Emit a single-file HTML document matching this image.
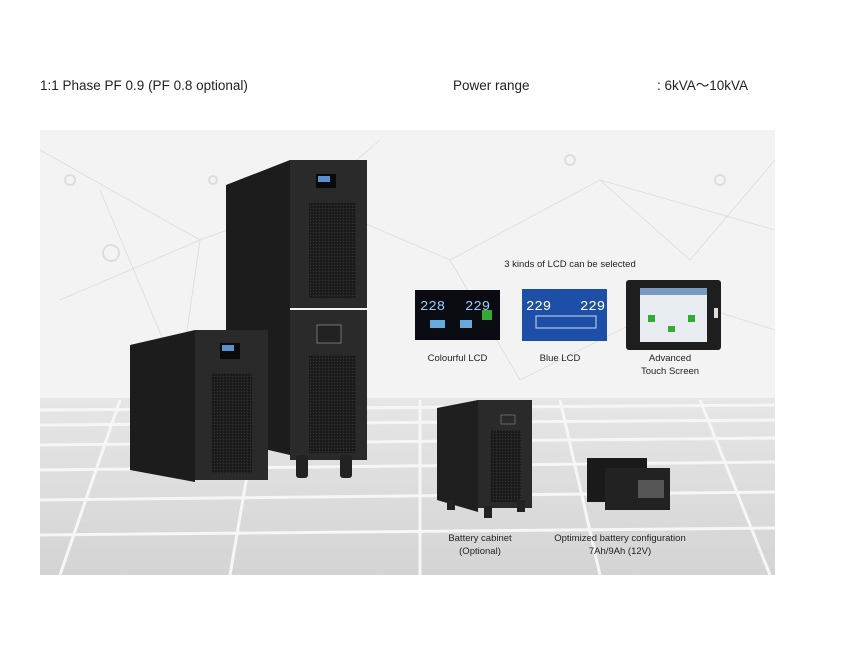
<!DOCTYPE html>
<html><head><meta charset="utf-8"><style>
body{margin:0;width:850px;height:655px;background:#fff;font-family:"Liberation Sans","Noto Sans CJK SC",sans-serif;position:relative;overflow:hidden}
.t{position:absolute;font-size:13.5px;color:#222;top:78px;line-height:16px;white-space:nowrap}
.c{position:absolute;font-size:9.5px;color:#222;text-align:center;line-height:13px}
</style></head><body>
<div class="t" style="left:40px">1:1 Phase PF 0.9 (PF 0.8 optional)</div>
<div class="t" style="left:453px">Power range</div>
<div class="t" style="left:657px">: 6kVA～10kVA</div>
<svg style="position:absolute;left:0;top:0" width="850" height="655">
<defs>
<linearGradient id="fl" x1="0" y1="0" x2="0" y2="1"><stop offset="0" stop-color="#e6e6e6"/><stop offset="1" stop-color="#d4d4d4"/></linearGradient>
<pattern id="mesh" width="3" height="3" patternUnits="userSpaceOnUse"><rect width="3" height="3" fill="#1a1a1a"/><circle cx="1.5" cy="1.5" r="0.8" fill="#333"/></pattern>
</defs>
<rect x="40" y="130" width="735" height="445" fill="#f3f3f3"/>
<rect x="40" y="398" width="735" height="177" fill="url(#fl)"/>
<g stroke="#f6f6f6" stroke-width="3" fill="none">
<path d="M40 410 L775 405 M40 425 L775 420 M40 445 L775 438 M40 470 L775 462 M40 500 L775 492 M40 535 L775 528"/>
<path d="M120 400 L60 575 M260 400 L230 575 M420 400 L420 575 M560 400 L600 575 M700 400 L770 575"/>
</g>
<g stroke="#dcdcdc" stroke-width="0.8" fill="none">
<path d="M40 150 L200 240 L310 200 L450 260 L600 180 L775 230 M60 300 L200 240 L180 380 M450 260 L520 380 L680 300 L775 330 M310 200 L380 140 M600 180 L690 260 L775 160 M100 190 L180 380 L300 300"/>
</g>
<g fill="none" stroke="#ddd" stroke-width="2"><circle cx="111" cy="253" r="8"/><circle cx="70" cy="180" r="5"/><circle cx="570" cy="160" r="5"/><circle cx="720" cy="180" r="5"/><circle cx="213" cy="180" r="4"/></g>
<polygon points="226,185 290,160 290,455 226,440" fill="#1c1c1c"/>
<rect x="290" y="160" width="77" height="148" fill="#2a2a2a"/>
<rect x="309" y="203" width="47" height="95" fill="url(#mesh)"/>
<rect x="316" y="174" width="20" height="14" fill="#0a0a0a"/><rect x="318" y="176" width="12" height="6" fill="#5a8fd0"/>
<rect x="290" y="310" width="77" height="150" fill="#2a2a2a"/>
<rect x="309" y="355" width="47" height="98" fill="url(#mesh)"/>
<rect x="317" y="325" width="24" height="18" fill="#222" stroke="#888" stroke-width="0.8"/>
<rect x="296" y="455" width="12" height="23" rx="3" fill="#222"/><rect x="340" y="455" width="12" height="23" rx="3" fill="#222"/>
<polygon points="130,345 195,330 195,482 130,470" fill="#1c1c1c"/>
<rect x="195" y="330" width="73" height="150" fill="#2a2a2a"/>
<rect x="212" y="373" width="40" height="100" fill="url(#mesh)"/>
<rect x="220" y="343" width="20" height="16" fill="#0a0a0a"/><rect x="222" y="345" width="12" height="6" fill="#5a8fd0"/>
<rect x="415" y="290" width="85" height="50" fill="#0b0b12"/>
<text x="420" y="310" font-size="14" fill="#9cf" font-family="Liberation Mono">228</text><text x="465" y="310" font-size="14" fill="#9cf" font-family="Liberation Mono">229</text>
<rect x="430" y="320" width="15" height="8" fill="#6ad"/><rect x="460" y="320" width="12" height="8" fill="#6ad"/><rect x="482" y="310" width="10" height="10" fill="#3a3"/>
<rect x="522" y="289" width="85" height="52" fill="#1d4fa8"/>
<text x="526" y="310" font-size="14" fill="#fff" font-family="Liberation Mono">229</text><text x="580" y="310" font-size="14" fill="#fff" font-family="Liberation Mono">229</text>
<rect x="536" y="316" width="60" height="12" fill="none" stroke="#cde" stroke-width="1"/>
<rect x="626" y="280" width="95" height="70" rx="3" fill="#1e1e1e"/>
<rect x="640" y="288" width="67" height="54" fill="#e8ecf0"/><rect x="640" y="288" width="67" height="7" fill="#7a9ac0"/>
<rect x="648" y="315" width="7" height="7" fill="#3a3"/><rect x="688" y="315" width="7" height="7" fill="#3a3"/><rect x="668" y="326" width="7" height="6" fill="#3a3"/>
<rect x="714" y="308" width="4" height="10" fill="#ddd"/>
<polygon points="437,408 478,400 478,512 437,500" fill="#1e1e1e"/>
<rect x="478" y="400" width="54" height="108" fill="#2a2a2a"/>
<rect x="491" y="430" width="30" height="72" fill="url(#mesh)"/>
<rect x="501" y="415" width="14" height="9" fill="none" stroke="#777" stroke-width="0.8"/>
<rect x="447" y="500" width="8" height="10" fill="#222"/><rect x="484" y="506" width="8" height="12" fill="#222"/><rect x="517" y="500" width="8" height="12" fill="#222"/>
<rect x="587" y="458" width="60" height="44" fill="#1a1a1a"/>
<rect x="605" y="468" width="65" height="42" fill="#222"/>
<rect x="638" y="480" width="26" height="18" fill="#555"/>
</svg>
<div class="c" style="left:470px;top:258px;width:200px">3 kinds of LCD can be selected</div>
<div class="c" style="left:400px;top:352px;width:115px">Colourful LCD</div>
<div class="c" style="left:510px;top:352px;width:100px">Blue LCD</div>
<div class="c" style="left:620px;top:352px;width:100px">Advanced<br>Touch Screen</div>
<div class="c" style="left:430px;top:532px;width:100px">Battery cabinet<br>(Optional)</div>
<div class="c" style="left:530px;top:532px;width:180px">Optimized battery configuration<br>7Ah/9Ah (12V)</div>
</body></html>
